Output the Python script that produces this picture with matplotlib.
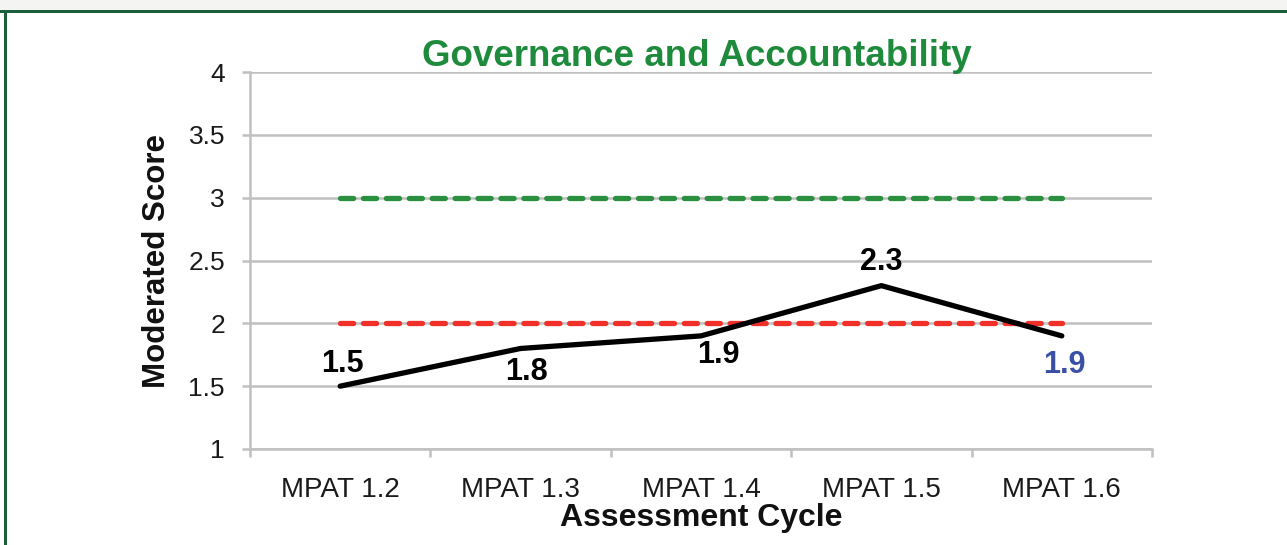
import matplotlib
matplotlib.use("Agg")
import matplotlib.pyplot as plt
from matplotlib.patches import Rectangle

categories = ["MPAT 1.2", "MPAT 1.3", "MPAT 1.4", "MPAT 1.5", "MPAT 1.6"]
scores = [1.5, 1.8, 1.9, 2.3, 1.9]
target_green = [3, 3, 3, 3, 3]
target_red = [2, 2, 2, 2, 2]
yticks = [1, 1.5, 2, 2.5, 3, 3.5, 4]
ytick_labels = ["1", "1.5", "2", "2.5", "3", "3.5", "4"]
title = "Governance and Accountability"
xlabel = "Assessment Cycle"
ylabel = "Moderated Score"

plt.rcParams['font.family'] = ['Liberation Sans', 'DejaVu Sans']
plt.rcParams['lines.scale_dashes'] = False

W, H = 1287, 545
fig = plt.figure(figsize=(W / 100, H / 100), dpi=100)
fig.patch.set_facecolor('white')

# frame decoration (top strip, green border top and left)
fig.add_artist(Rectangle((0, 1 - 10 / H), 1, 10 / H, transform=fig.transFigure,
                         facecolor='#f4f4f2', edgecolor='none', zorder=0))
fig.add_artist(Rectangle((0, 1 - 13 / H), 1, 3 / H, transform=fig.transFigure,
                         facecolor='#1b5e3b', edgecolor='none', zorder=1))
fig.add_artist(Rectangle((4 / W, 0), 3 / W, 1 - 10 / H, transform=fig.transFigure,
                         facecolor='#1b5e3b', edgecolor='none', zorder=1))

left, right, top, bottom = 250, 1152, 72, 449
ax = fig.add_axes([left / W, 1 - bottom / H, (right - left) / W, (bottom - top) / H])
ax.set_facecolor('none')

x = list(range(len(categories)))
ax.set_xlim(-0.5, len(categories) - 0.5)
ax.set_ylim(1, 4)

grid_c = '#c0c0c0'
for yv in yticks:
    ax.axhline(yv, color=grid_c, lw=1.8, zorder=1)

ax.plot(x, target_green, color='#2a9040', lw=3.8, dashes=(9.5, 7.0), zorder=3,
        dash_capstyle='round')
ax.plot(x, target_red, color='#f2302a', lw=3.8, dashes=(9.5, 7.0), zorder=3,
        dash_capstyle='round')
ax.plot(x, scores, color='black', lw=3.8, zorder=4, solid_capstyle='round',
        solid_joinstyle='round')

label_offsets = [(2, 22), (6, -24), (17, -19), (0, 24), (3, -29)]
label_colors = ['black', 'black', 'black', 'black', '#3a4fa6']
for xi, yi, off, c in zip(x, scores, label_offsets, label_colors):
    ax.annotate(f"{yi:g}", (xi, yi), xytext=off, textcoords='offset pixels',
                ha='center', va='center', fontsize=22, fontweight='bold',
                color=c, zorder=5)

for s in ['top', 'right']:
    ax.spines[s].set_visible(False)
ax.spines['left'].set_color(grid_c)
ax.spines['left'].set_linewidth(1.8)
ax.spines['bottom'].set_color(grid_c)
ax.spines['bottom'].set_linewidth(1.8)

ax.set_yticks(yticks)
ax.set_yticklabels(ytick_labels)
ax.tick_params(axis='y', length=6, width=1.8, color=grid_c, pad=12,
               labelsize=19, labelcolor='#1a1a1a')

ax.set_xticks(x)
ax.set_xticklabels(categories)
ax.set_xticks([i - 0.5 for i in range(len(categories) + 1)], minor=True)
ax.tick_params(axis='x', which='major', length=0, pad=20, labelsize=20,
               labelcolor='#1a1a1a')
ax.tick_params(axis='x', which='minor', length=6, width=1.8, color=grid_c)

ax.set_xlabel(xlabel, fontsize=23, fontweight='bold', labelpad=0, color='#111111')
ax.set_ylabel(ylabel, fontsize=22.5, fontweight='bold', labelpad=12, color='#111111')

fig.text(0.5418, 1 - 56 / H, title, ha='center', va='center', fontsize=26.5,
         fontweight='bold', color='#1e8a3c')

fig.savefig('out.png', dpi=100)
